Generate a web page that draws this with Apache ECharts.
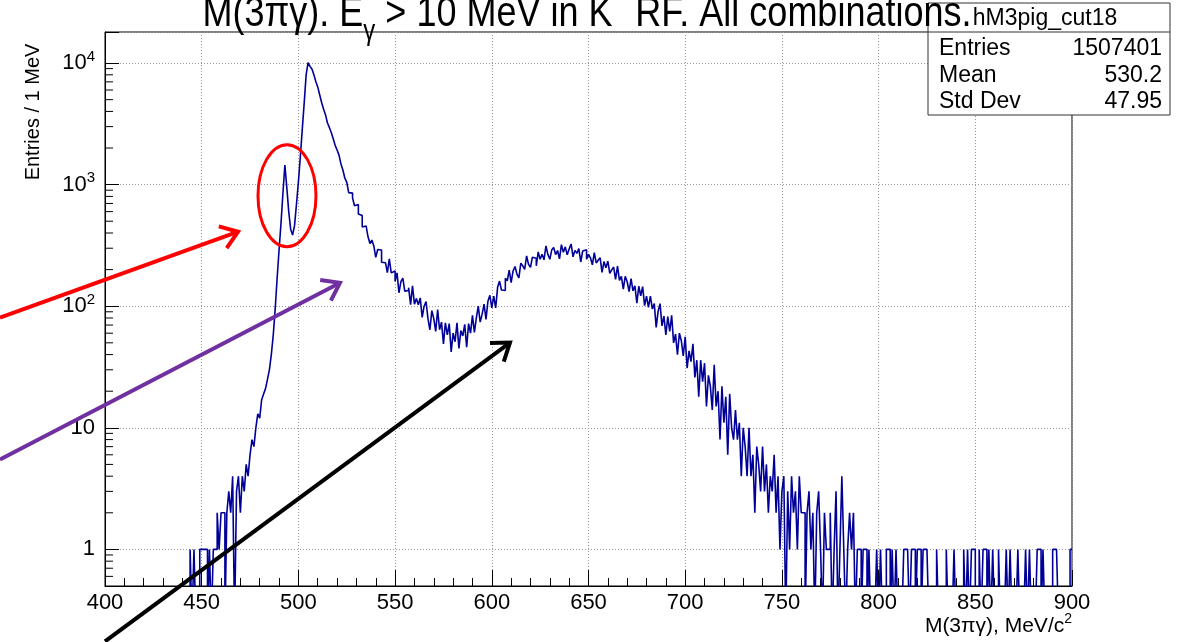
<!DOCTYPE html>
<html><head><meta charset="utf-8">
<script src="https://cdn.jsdelivr.net/npm/echarts@6/dist/echarts.min.js"></script>
<style>html,body{margin:0;padding:0;background:#fff}#c{width:1178px;height:642px}</style>
</head><body><div id="c"></div>
<script>
// Histogram hM3pig_cut18 : 1 MeV bins starting at 400 MeV
const binStart = 400;
const binWidth = 1;
const counts400 = [
 0,0,0,0,0,0,0,0,0,0,
 0,0,0,0,0,0,0,0,0,0,
 0,0,0,0,0,0,0,0,0,0,
 0,0,0,0,0,0,0,0,0,0,
 0,0,0,0,1,0,1,0,0,1,
 1,1,1,0,1,0,1,1,2,1,
 2,2,0,2,3,2,4,0,3,4,
 2,4,3,5,4,6,8,7,10,13,
 12,17,19,21,25,30,40,58,95,170,
 290,480,850,1450,950,600,430,385,460,690];
const counts500 = [
 1050,1700,2850,4700,8000,10080,9393,8925,8018,7049,
 6361,5485,4738,4182,3761,3225,2955,2686,2380,2104,
 1926,1749,1481,1320,1133,1050,860,852,778,670,
 685,573,557,448,457,467,372,328,350,313,
 252,293,290,230,228,234,189,245,188,195,
 160,188,129,159,170,133,135,142,103,147,
 104,116,103,117,81,100,109,79,64,92,
 79,62,94,64,74,49,73,58,72,42,
 60,51,73,45,63,57,71,46,72,60,
 84,61,80,100,74,86,104,78,110,123];
const counts600 = [
 97,121,97,143,161,136,135,170,162,198,
 156,195,212,184,171,226,215,201,259,221,
 209,253,248,215,280,243,268,241,313,267,
 243,291,304,266,287,245,321,278,308,265,
 296,325,255,288,272,298,231,285,291,243,
 267,250,219,276,227,239,251,190,233,207,
 235,186,199,210,166,214,163,176,138,176,
 159,132,169,134,147,106,146,122,145,101,
 121,98,121,95,105,67,91,105,69,83,
 58,82,62,84,50,59,40,60,52,39];
const counts700 = [
 56,31,43,35,49,26,36,18,36,24,
 34,15,27,22,14,33,15,20,8,22,
 11,18,6,19,10,8,14,8,11,4,
 10,7,4,10,4,6,2,7,5,3,
 7,3,5,2,4,3,6,2,4,1,
 3,4,0,3,1,4,2,3,1,4,
 2,2,0,2,3,1,2,0,2,3,
 1,0,2,1,1,2,0,1,3,0,
 1,4,1,0,1,2,1,2,0,1,
 1,0,1,1,0,1,0,0,0,1];
const counts800 = [
 0,1,0,0,1,1,0,1,0,1,
 0,0,0,1,1,1,0,1,1,0,
 1,1,0,1,1,1,0,0,0,0,
 1,0,0,0,0,1,0,0,0,1,
 0,0,0,0,1,0,1,0,1,1,
 0,0,1,0,1,1,0,1,0,1,
 0,0,1,0,0,0,1,0,1,0,
 0,0,1,0,0,0,1,0,1,0,
 0,0,1,1,0,1,0,0,0,0,
 1,1,1,0,0,0,0,0,0,1];

const xTickValues = [400,450,500,550,600,650,700,750,800,850,900];
const yDecades = [1,10,100,1000,10000];
const yMinorMantissas = [2,3,4,5,6,7,8,9];
const yBelowOne = [0.6,0.7,0.8,0.9];
const statsTitle = 'hM3pig_cut18';
const statsRows = [['Entries','1507401'],['Mean','530.2'],['Std Dev','47.95']];
const titleText = 'M(3\u03c0\u03b3). E{sub|\u03b3} > 10 MeV in K{sup|\u2212} RF. All combinations.';
const xTitleText = 'M(3\u03c0\u03b3), MeV/c{sup|2}';
const yTitleText = 'Entries / 1 MeV';

const Y_MIN = 0.5, Y_MAX = 18000;
const FONT = 'Liberation Sans';
const counts = [].concat(counts400, counts500, counts600, counts700, counts800);
// empty bins drop below the frame bottom and are clipped, as ROOT does on a log scale
const EMPTY = Y_MIN * 0.5;
const histData = counts.map((c, i) => [binStart + i * binWidth, c > 0 ? c : EMPTY]);
const lastC = counts[counts.length - 1];
histData.push([binStart + counts.length * binWidth, lastC > 0 ? lastC : EMPTY]);

const minorTickVals = yBelowOne.slice();
yDecades.forEach(d => yMinorMantissas.forEach(m => { if (m * d < Y_MAX) minorTickVals.push(m * d); }));

const chart = echarts.init(document.getElementById('c'));

function yLabel(v) {
  const l = Math.log10(v), e = Math.round(l);
  if (Math.abs(l - e) > 1e-6) return '';
  if (e === 0) return '1';
  if (e === 1) return '10';
  return '10{sup|' + e + '}';
}

const option = {
  animation: false,
  backgroundColor: '#fff',
  grid: { left: 105, right: 106, top: 32, bottom: 56, show: true, borderColor: '#000', borderWidth: 1, backgroundColor: 'transparent' },
  xAxis: {
    type: 'value', min: 400, max: 900, interval: 50,
    axisLine: { show: true, onZero: false, lineStyle: { color: '#000', width: 1 } },
    axisTick: { show: true, inside: true, length: 16, lineStyle: { color: '#000' } },
    minorTick: { show: true, splitNumber: 5, length: 8, lineStyle: { color: '#000' } },
    axisLabel: { color: '#000', fontSize: 22, fontFamily: FONT, margin: 6,
      formatter: v => xTickValues.indexOf(v) >= 0 ? String(v) : '' },
    splitLine: { show: true, lineStyle: { color: '#999', width: 1, type: [1, 2] } }
  },
  yAxis: {
    type: 'log', logBase: 10, min: Y_MIN, max: Y_MAX, splitNumber: 5,
    axisLine: { show: true, onZero: false, lineStyle: { color: '#000', width: 1 } },
    axisTick: { show: true, inside: true, length: 14, lineStyle: { color: '#000' } },
    axisLabel: { color: '#000', fontSize: 22, fontFamily: FONT, margin: 10, lineHeight: 28,
      formatter: yLabel,
      rich: { sup: { fontSize: 15, fontFamily: FONT, color: '#000', lineHeight: 28, verticalAlign: 'top' } } },
    splitLine: { show: true, lineStyle: { color: '#999', width: 1, type: [1, 2] } }
  },
  series: [
    { type: 'line', step: 'end', data: histData, showSymbol: false, symbol: 'none',
      lineStyle: { color: '#000099', width: 1.6 }, itemStyle: { color: '#000099' },
      clip: true, silent: true, z: 3 },
    { type: 'custom', silent: true, clip: false, z: 4,
      data: minorTickVals.map(v => [400, v]),
      encode: { x: 0, y: 1 },
      renderItem: (params, api) => {
        const p = api.coord([api.value(0), api.value(1)]);
        return { type: 'line', shape: { x1: p[0], y1: p[1], x2: p[0] + 8, y2: p[1] },
          style: { stroke: '#000', lineWidth: 1 } };
      } }
  ]
};
chart.setOption(option);

function px(pt) { return chart.convertToPixel({ gridIndex: 0 }, pt); }
function arrow(from, to, color) {
  const a = px(from), b = px(to);
  const ang = Math.atan2(b[1] - a[1], b[0] - a[0]);
  const L = 20, w = 0.62;
  const p1 = [b[0] - L * Math.cos(ang - w), b[1] - L * Math.sin(ang - w)];
  const p2 = [b[0] - L * Math.cos(ang + w), b[1] - L * Math.sin(ang + w)];
  return [
    { type: 'line', shape: { x1: a[0], y1: a[1], x2: b[0] - 2 * Math.cos(ang), y2: b[1] - 2 * Math.sin(ang) }, style: { stroke: color, lineWidth: 4 }, z: 100 },
    { type: 'polyline', shape: { points: [p1, b, p2] }, style: { stroke: color, lineWidth: 4, fill: null }, z: 100 }
  ];
}
const ellC = px([494.1, 811]);

const graphics = [];
// stats box
const bx = 928, by = 3, bw = 242, bh = 112, hdr = 29;
graphics.push({ type: 'rect', shape: { x: bx, y: by, width: bw, height: bh }, style: { fill: '#fff', stroke: '#333', lineWidth: 1 }, z: 20 });
graphics.push({ type: 'line', shape: { x1: bx, y1: by + hdr, x2: bx + bw, y2: by + hdr }, style: { stroke: '#333', lineWidth: 1 }, z: 21 });
graphics.push({ type: 'text', x: bx + bw / 2 - 4, y: by + hdr / 2 + 1, style: { text: statsTitle, fontSize: 23, fontFamily: FONT, fill: '#000', align: 'center', verticalAlign: 'middle' }, z: 21 });
statsRows.forEach((r, i) => {
  const yy = by + hdr + 17 + i * 26.5;
  graphics.push({ type: 'text', x: bx + 11, y: yy, style: { text: r[0], fontSize: 23, fontFamily: FONT, fill: '#000', align: 'left', verticalAlign: 'middle' }, z: 21 });
  graphics.push({ type: 'text', x: bx + bw - 8, y: yy, style: { text: r[1], fontSize: 23, fontFamily: FONT, fill: '#000', align: 'right', verticalAlign: 'middle' }, z: 21 });
});
// title (slightly taller than wide, top clipped by the canvas edge as in the source)
graphics.push({ type: 'text', x: 587, y: 14, scaleY: 1.2, z: 30, style: { text: titleText, fontSize: 36, fontFamily: FONT, fill: '#000', align: 'center', verticalAlign: 'middle',
  rich: { sub: { fontSize: 24, fontFamily: FONT, fill: '#000', padding: [30, 0, 0, 0] },
          sup: { fontSize: 22, fontFamily: FONT, fill: '#000', padding: [0, 0, 30, 0] } } } });
// axis titles
graphics.push({ type: 'text', x: 33, y: 112, rotation: Math.PI / 2, z: 30, style: { text: yTitleText, fontSize: 20, fontFamily: FONT, fill: '#000', align: 'center', verticalAlign: 'middle' } });
graphics.push({ type: 'text', x: 1072, y: 626, z: 30, style: { text: xTitleText, fontSize: 21, fontFamily: FONT, fill: '#000', align: 'right', verticalAlign: 'middle',
  rich: { sup: { fontSize: 14, fontFamily: FONT, fill: '#000', padding: [0, 0, 13, 0] } } } });
// annotations
graphics.push({ type: 'ellipse', shape: { cx: ellC[0], cy: ellC[1], rx: 29, ry: 51 }, style: { fill: null, stroke: '#ff0000', lineWidth: 3 }, z: 100 });
arrow([345.7, 80.6], [468.8, 410], '#ff0000').forEach(g => graphics.push(g));
arrow([345.7, 5.49], [521.5, 156], '#7030a0').forEach(g => graphics.push(g));
arrow([400, 0.175], [609.4, 50.2], '#000000').forEach(g => graphics.push(g));

chart.setOption({ graphic: graphics });
</script>
</body></html>
